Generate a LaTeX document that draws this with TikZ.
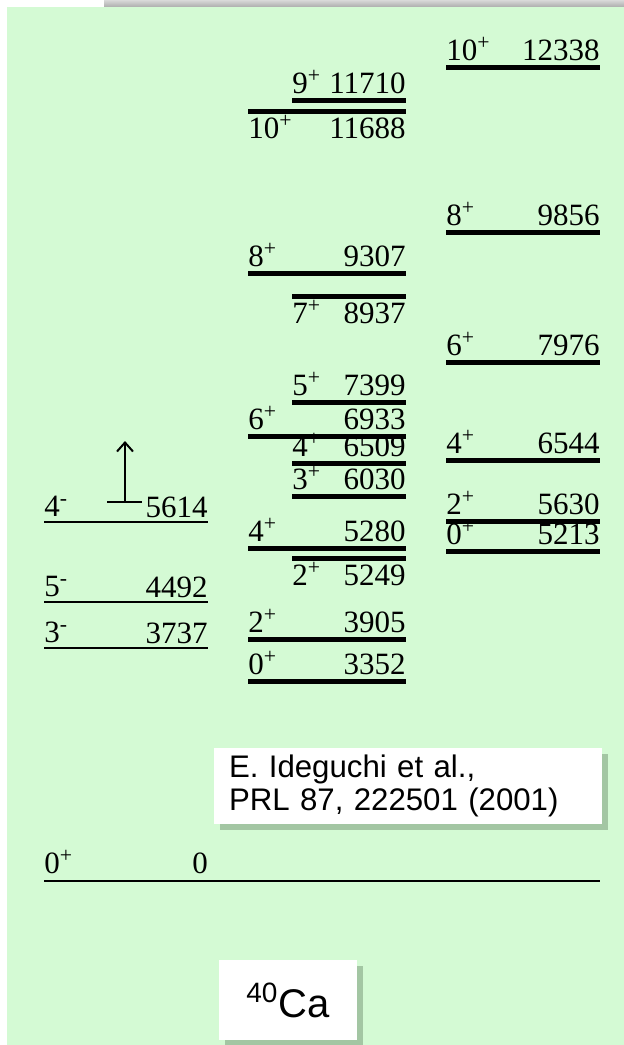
\documentclass[tikz,border=0pt]{standalone}
\usepackage{fontspec}
\setmainfont{Liberation Serif}
\newfontfamily\arialfont{Liberation Sans}
\usepackage{xcolor}
\usepackage{tikz}
\usetikzlibrary{positioning, arrows.meta, shadows}
\definecolor{bggreen}{RGB}{212,250,212}
\definecolor{shadegreen}{RGB}{105,135,105}

\begin{document}
\begin{tikzpicture}[x=0.5pt, y=-0.5pt, font=\fontsize{15.5}{18}\selectfont,
    lev/.style={line width=2.5pt},
    neglev/.style={line width=1pt},
    spin/.style={anchor=base west, inner sep=0pt},
    energy/.style={anchor=base east, inner sep=0pt},
    refbox/.style={fill=white, inner sep=0pt,
        drop shadow={shadow xshift=3pt, shadow yshift=-3pt, opacity=0.45, fill=shadegreen}}]
    \useasboundingbox (0,0) rectangle (624,1045);
    \fill[white] (0,0) rectangle (624,1045);
    \shade[top color=gray!30, bottom color=gray!65] (104,0) rectangle (624,7);
    \fill[bggreen] (7,7) rectangle (624,1045);
    % levels with labels above the line
    \foreach \xa/\xb/\y/\s/\e in {446/600/67/10/12338, 446/600/232/8/9856, 446/600/362/6/7976,
        446/600/460/4/6544, 446/600/521/2/5630, 446/600/551/0/5213,
        292/406/100/9/11710, 248/406/273/8/9307, 292/406/402/5/7399, 248/406/436/6/6933,
        292/406/463/4/6509, 292/406/496/3/6030, 248/406/548/4/5280, 248/406/639/2/3905,
        248/406/681/0/3352} {
        \draw[lev] (\xa,\y) -- (\xb,\y);
        \node[spin] (s\e) at (\xa,\y-7) {\s\textsuperscript{+}};
        \node[energy] (e\e) at (\xb,\y-7) {\e};
    }
    % levels with labels below the line
    \foreach \xa/\xb/\y/\s/\e in {248/406/111/10/11688, 292/406/296/7/8937, 292/406/558/2/5249} {
        \draw[lev] (\xa,\y) -- (\xb,\y);
        \node[spin] (s\e) at (\xa,\y+27) {\s\textsuperscript{+}};
        \node[energy] (e\e) at (\xb,\y+27) {\e};
    }
    \foreach \y/\s/\e in {522/4/5614, 602/5/4492, 648/3/3737} {
        \draw[neglev] (44,\y) -- (208,\y);
        \node[spin] (s\e) at (44,\y-6) {\s\textsuperscript{-}};
        \node[energy] (e\e) at (208,\y-5) {\e};
    }
    \coordinate (tickl) at (107,502);
    \coordinate (tickr) at (142,502);
    \coordinate (foot) at (125,502);
    \coordinate (head) at (125,441);
    \draw[line width=1pt] (tickl) -- (tickr);
    \draw[-{Straight Barb[length=4.5pt, width=8pt]}, line width=1pt] (foot) -- (head);
    \draw[line width=1.3pt] (44,881) -- (600,881);
    \node[spin] (s0) at (44,873) {0\textsuperscript{+}};
    \node[anchor=base, inner sep=0pt] (e0) at (200,873) {0};
    \node[refbox, minimum width=194pt, minimum height=38pt, text width=179pt, align=left,
        font=\arialfont\fontsize{15.6}{16.5}\selectfont] (cite) at (408,786)
        {E. Ideguchi et al.,\\PRL 87, 222501 (2001)};
    \node[refbox, minimum width=69pt, minimum height=40pt,
        font=\arialfont\fontsize{20}{22}\selectfont] (nucl) at (288,1000)
        {\textsuperscript{40}Ca};
\end{tikzpicture}
\end{document}
